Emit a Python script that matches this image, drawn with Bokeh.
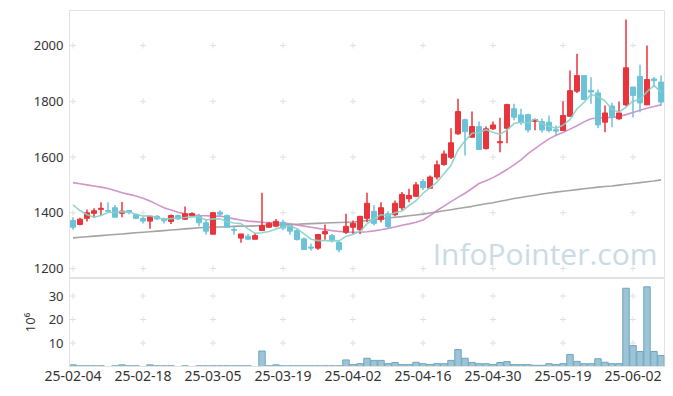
from bokeh.plotting import figure
from bokeh.layouts import column
from bokeh.models import Range1d, FixedTicker, ColumnDataSource, Label
from bokeh.embed import file_html
from bokeh.resources import INLINE

dates = [
    "25-02-04", "25-02-05", "25-02-06", "25-02-07", "25-02-10", "25-02-11", "25-02-12", "25-02-13", "25-02-14", "25-02-17",
    "25-02-18", "25-02-19", "25-02-20", "25-02-21", "25-02-24", "25-02-25", "25-02-26", "25-02-27", "25-02-28", "25-03-04",
    "25-03-05", "25-03-06", "25-03-07", "25-03-10", "25-03-11", "25-03-12", "25-03-13", "25-03-14", "25-03-17", "25-03-18",
    "25-03-19", "25-03-20", "25-03-21", "25-03-24", "25-03-25", "25-03-26", "25-03-27", "25-03-28", "25-03-31", "25-04-01",
    "25-04-02", "25-04-03", "25-04-04", "25-04-07", "25-04-08", "25-04-09", "25-04-10", "25-04-11", "25-04-14", "25-04-15",
    "25-04-16", "25-04-17", "25-04-18", "25-04-21", "25-04-22", "25-04-23", "25-04-24", "25-04-25", "25-04-28", "25-04-29",
    "25-04-30", "25-05-02", "25-05-07", "25-05-08", "25-05-09", "25-05-12", "25-05-13", "25-05-14", "25-05-15", "25-05-16",
    "25-05-19", "25-05-20", "25-05-21", "25-05-22", "25-05-23", "25-05-26", "25-05-27", "25-05-28", "25-05-29", "25-05-30",
    "25-06-02", "25-06-04", "25-06-05", "25-06-09", "25-06-10",
]

opens = [
    1372, 1358, 1380, 1398, 1412, 1408, 1418, 1398, 1408, 1393,
    1380, 1370, 1387, 1379, 1369, 1390, 1377, 1390, 1387, 1364,
    1323, 1402, 1390, 1340, 1309, 1316, 1305, 1336, 1348, 1352,
    1366, 1354, 1336, 1306, 1277, 1273, 1324, 1318, 1293, 1330,
    1348, 1339, 1380, 1405, 1376, 1396, 1393, 1418, 1450, 1459,
    1512, 1488, 1528, 1573, 1599, 1683, 1734, 1671, 1709, 1630,
    1701, 1651, 1703, 1773, 1751, 1752, 1728, 1727, 1725, 1698,
    1695, 1746, 1836, 1892, 1839, 1830, 1725, 1783, 1737, 1787,
    1851, 1889, 1787, 1880, 1869,
]
highs = [
    1384, 1382, 1412, 1416, 1438, 1438, 1428, 1439, 1410, 1395,
    1386, 1387, 1392, 1382, 1394, 1394, 1422, 1402, 1396, 1378,
    1402, 1409, 1394, 1354, 1324, 1324, 1327, 1472, 1366, 1378,
    1375, 1360, 1342, 1312, 1289, 1322, 1358, 1324, 1300, 1396,
    1372, 1389, 1472, 1427, 1438, 1405, 1444, 1474, 1486, 1510,
    1521, 1534, 1587, 1623, 1703, 1809, 1737, 1763, 1727, 1709,
    1727, 1741, 1791, 1791, 1773, 1755, 1737, 1738, 1749, 1713,
    1799, 1910, 1970, 1892, 1886, 1842, 1785, 1795, 1799, 2093,
    1851, 1931, 2000, 1887, 1892,
]
lows = [
    1339, 1355, 1369, 1383, 1390, 1405, 1383, 1384, 1395, 1377,
    1361, 1343, 1374, 1361, 1360, 1374, 1374, 1384, 1352, 1321,
    1323, 1388, 1346, 1321, 1292, 1302, 1305, 1336, 1346, 1348,
    1337, 1321, 1300, 1268, 1265, 1267, 1303, 1293, 1258, 1324,
    1324, 1324, 1366, 1354, 1366, 1342, 1387, 1408, 1438, 1456,
    1482, 1485, 1519, 1569, 1593, 1680, 1605, 1671, 1627, 1627,
    1697, 1617, 1649, 1732, 1716, 1688, 1696, 1688, 1689, 1675,
    1695, 1746, 1830, 1806, 1791, 1703, 1689, 1707, 1734, 1782,
    1743, 1761, 1787, 1850, 1784,
]
closes = [
    1348, 1377, 1400, 1407, 1416, 1405, 1384, 1406, 1402, 1380,
    1370, 1387, 1378, 1371, 1390, 1378, 1396, 1397, 1364, 1334,
    1400, 1395, 1348, 1337, 1324, 1305, 1318, 1354, 1362, 1369,
    1345, 1334, 1304, 1268, 1273, 1322, 1333, 1300, 1267, 1351,
    1362, 1387, 1434, 1362, 1418, 1351, 1434, 1466, 1462, 1500,
    1490, 1528, 1572, 1611, 1651, 1763, 1691, 1709, 1627, 1701,
    1715, 1655, 1788, 1743, 1725, 1697, 1734, 1697, 1695, 1693,
    1749, 1838, 1892, 1806, 1833, 1715, 1758, 1743, 1758, 1920,
    1821, 1794, 1878, 1874, 1797,
]
# volume in millions of shares
volumes = [
    0.7, 0.3, 0.3, 0.3, 0.3, 0.0, 0.3, 0.7, 0.3, 0.3,
    0.0, 0.7, 0.3, 0.3, 0.3, 0.0, 0.3, 0.0, 0.3, 0.3,
    0.3, 0.3, 0.3, 0.3, 0.3, 0.3, 0.0, 6.6, 0.3, 0.7,
    0.3, 0.3, 0.3, 0.3, 0.3, 0.3, 0.3, 0.3, 0.3, 2.8,
    0.8, 1.2, 3.5, 2.6, 2.6, 1.2, 1.7, 0.8, 0.8, 1.8,
    1.2, 0.8, 1.2, 1.2, 2.6, 7.2, 3.5, 1.7, 1.2, 1.2,
    0.8, 1.7, 2.1, 0.8, 0.8, 0.8, 0.5, 0.5, 1.2, 0.8,
    1.2, 5.1, 2.2, 1.2, 1.2, 3.3, 1.8, 1.2, 1.2, 33.3,
    8.9, 6.4, 33.9, 6.4, 4.7,
]
ma5 = [
    1428, 1408, 1393, 1384, 1390, 1401, 1402, 1404, 1403, 1395,
    1388, 1389, 1383, 1377, 1379, 1381, 1383, 1386, 1385, 1374,
    1378, 1378, 1368, 1363, 1361, 1342, 1326, 1328, 1333, 1342,
    1350, 1353, 1343, 1324, 1305, 1300, 1300, 1299, 1299, 1315,
    1323, 1333, 1360, 1379, 1393, 1390, 1400, 1406, 1426, 1443,
    1470, 1489, 1510, 1540, 1570, 1625, 1658, 1685, 1688, 1698,
    1689, 1681, 1697, 1720, 1725, 1722, 1737, 1719, 1710, 1703,
    1714, 1734, 1773, 1796, 1824, 1817, 1801, 1771, 1761, 1779,
    1800, 1807, 1834, 1857, 1833,
]
ma20 = [
    1508, 1504, 1500, 1496, 1492, 1487, 1480, 1472, 1466, 1460,
    1452, 1442, 1430, 1418, 1410, 1402, 1396, 1393, 1390, 1389,
    1388, 1388, 1384, 1378, 1374, 1370, 1368, 1366, 1365, 1364,
    1363, 1360, 1356, 1352, 1348, 1344, 1340, 1336, 1333, 1331,
    1330, 1330, 1332, 1335, 1339, 1344, 1349, 1355, 1360, 1366,
    1374, 1390, 1408, 1424, 1440, 1455, 1470, 1487, 1505, 1515,
    1526, 1540, 1555, 1572, 1590, 1612, 1630, 1648, 1665, 1678,
    1688, 1700, 1712, 1726, 1737, 1740, 1741, 1742, 1745, 1752,
    1760, 1768, 1775, 1781, 1787,
]
ma_long = [
    1310, 1312, 1314, 1316, 1318, 1320, 1322, 1324, 1326, 1328,
    1330, 1332, 1334, 1336, 1338, 1340, 1342, 1344, 1346, 1347,
    1348, 1349, 1350, 1351, 1352, 1352, 1353, 1354, 1355, 1356,
    1357, 1358, 1359, 1360, 1361, 1362, 1363, 1364, 1365, 1366,
    1367, 1369, 1372, 1375, 1378, 1381, 1384, 1386, 1389, 1392,
    1395, 1399, 1403, 1407, 1411, 1415, 1419, 1423, 1428, 1432,
    1436, 1441, 1446, 1451, 1455, 1459, 1463, 1467, 1471, 1474,
    1477, 1480, 1483, 1486, 1489, 1492, 1494, 1496, 1499, 1502,
    1505, 1508, 1511, 1514, 1518,
]
price_ticks = [1200, 1400, 1600, 1800, 2000]
volume_ticks = [10, 20, 30]
date_tick_labels = ["25-02-04", "25-02-18", "25-03-05", "25-03-19", "25-04-02",
                    "25-04-16", "25-04-30", "25-05-19", "25-06-02"]

UP = "#e8343b"
DOWN = "#6cc3d8"
TEXT = "#333333"
FONT = "Noto Sans"
GRID = "#e0e0e0"
BORDER = "#e3e3e3"

n = len(dates)
idx = list(range(n))
tick_idx = [dates.index(d) for d in date_tick_labels]

src = ColumnDataSource(dict(
    x=idx, open=opens, high=highs, low=lows, close=closes,
    top=[max(o, c) for o, c in zip(opens, closes)],
    bottom=[min(o, c) for o, c in zip(opens, closes)],
    color=[UP if c >= o else DOWN for o, c in zip(opens, closes)],
    vol=volumes, ma5=ma5, ma20=ma20, mal=ma_long,
))

x_range = Range1d(-0.5, n - 0.5)


def style_yaxis(fig):
    ax = fig.yaxis
    ax.axis_line_color = BORDER
    ax.major_tick_line_color = None
    ax.minor_tick_line_color = None
    ax.major_tick_out = 0
    ax.major_tick_in = 0
    ax.minor_tick_out = 0
    ax.minor_tick_in = 0
    ax.major_label_text_font = FONT
    ax.major_label_text_font_size = "13px"
    ax.major_label_text_color = TEXT
    ax.major_label_standoff = 6


p = figure(frame_width=595, frame_height=268, x_range=x_range,
           y_range=Range1d(1164.1, 2125.6),
           output_backend="svg", toolbar_location=None,
           min_border_left=69, min_border_right=4, min_border_top=10, min_border_bottom=0)
p.xaxis.visible = False
p.xgrid.visible = False
p.ygrid.visible = False
p.outline_line_color = BORDER
p.yaxis.ticker = FixedTicker(ticks=price_ticks)
style_yaxis(p)

wm = Label(x=588, y=25, x_units="screen", y_units="screen", text="InfoPointer.com",
           text_font="Open Sans", text_font_size="30px", text_color="#c9dbe5",
           text_align="right", text_baseline="alphabetic", level="underlay")
p.add_layout(wm)

# grid crosses at tick intersections
gx = [t for t in tick_idx for _ in price_ticks]
gy = [val for _ in tick_idx for val in price_ticks]
p.scatter(gx, gy, marker="cross", size=6, line_color=GRID, line_width=1)

p.line("x", "mal", source=src, line_color="#9a9a9a", line_width=1.6, line_alpha=0.9)
p.line("x", "ma20", source=src, line_color="#cc8ac2", line_width=1.6, line_alpha=0.9)
p.segment(x0="x", y0="low", x1="x", y1="high", source=src, line_color="color", line_width=1.5)
p.vbar(x="x", top="top", bottom="bottom", width=0.72, source=src,
       fill_color="color", line_color="color", line_width=1)
p.line("x", "ma5", source=src, line_color="#8ad0c6", line_width=1.6, line_alpha=0.9)

v = figure(frame_width=595, frame_height=88, x_range=x_range,
           y_range=Range1d(0, 37.45),
           output_backend="svg", toolbar_location=None,
           min_border_left=69, min_border_right=4, min_border_top=0, min_border_bottom=10)
v.xgrid.visible = False
v.ygrid.visible = False
v.outline_line_color = BORDER
v.yaxis.ticker = FixedTicker(ticks=volume_ticks)
style_yaxis(v)
v.yaxis.axis_label = "10⁶"
v.yaxis.axis_label_text_font = FONT
v.yaxis.axis_label_text_font_size = "13px"
v.yaxis.axis_label_text_font_style = "normal"
v.yaxis.axis_label_text_color = TEXT
v.yaxis.axis_label_standoff = 7

v.xaxis.ticker = FixedTicker(ticks=tick_idx)
v.xaxis.major_label_overrides = {i: d for i, d in zip(tick_idx, date_tick_labels)}
v.xaxis.axis_line_color = BORDER
v.xaxis.major_tick_line_color = None
v.xaxis.minor_tick_line_color = None
v.xaxis.major_tick_out = 0
v.xaxis.major_tick_in = 0
v.xaxis.minor_tick_out = 0
v.xaxis.minor_tick_in = 0
v.xaxis.major_label_text_font = FONT
v.xaxis.major_label_text_font_size = "14px"
v.xaxis.major_label_text_color = TEXT
v.xaxis.major_label_standoff = 4

vgx = [t for t in tick_idx for _ in volume_ticks]
vgy = [val for _ in tick_idx for val in volume_ticks]
v.scatter(vgx, vgy, marker="cross", size=6, line_color=GRID, line_width=1)
v.vbar(x="x", top="vol", bottom=0, width=0.92, source=src,
       fill_color="#9cc4d5", line_color="#6fa5be", line_width=1)

layout = column(p, v, spacing=0)
open("out.html", "w").write(file_html(layout, INLINE))
